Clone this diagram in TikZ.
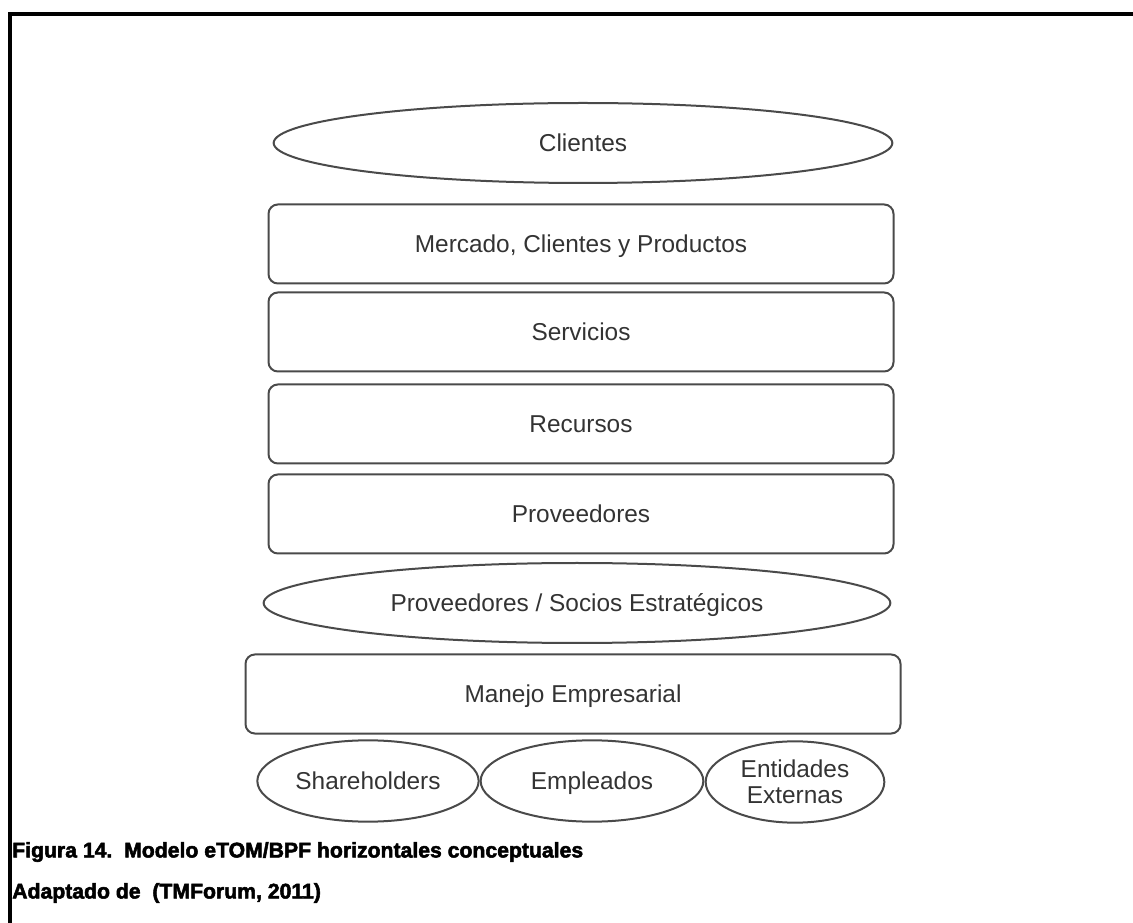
\documentclass[tikz,border=0pt]{standalone}
\usepackage{fontspec}
\setmainfont{Liberation Sans}
\newfontfamily\capfont[FakeBold=2.4]{Liberation Sans Bold}
\usetikzlibrary{shapes.geometric}
\definecolor{edge}{HTML}{4A4A4A}
\definecolor{ink}{HTML}{333333}
\tikzset{
  layer/.style={draw=edge, line width=1.5pt, rounded corners=7pt, text=ink,
    minimum width=468.75pt, minimum height=59.25pt, inner sep=0pt,
    text height=13pt, text depth=0pt, font=\fontsize{18.3}{21}\selectfont},
  party/.style={draw=edge, line width=1.5pt, ellipse, text=ink, inner sep=0pt,
    text height=13pt, text depth=0pt, font=\fontsize{18.3}{21}\selectfont, align=center},
  caption/.style={anchor=west, inner sep=0pt, text=black, font=\capfont\fontsize{15.9}{19}\selectfont}
}
\begin{document}
\begin{tikzpicture}[x=0.75pt, y=-0.75pt]
  \useasboundingbox (0,0) rectangle (1133,923);
  % frame
  \coordinate (fc) at (10,14);
  \draw[line width=2.4pt] (1133,14) -- (fc) -- (10,923);

  % top party
  \node[party, minimum width=464pt, minimum height=60pt] (cli) at (583,143) {Clientes};

  % stacked horizontal layers
  \node[layer] (mer) at (581,244) {Mercado, Clientes y Productos};
  \node[layer] (ser) at (581,332) {Servicios};
  \node[layer] (rec) at (581,424) {Recursos};
  \node[layer] (pro) at (581,514) {Proveedores};

  \node[party, minimum width=470pt, minimum height=60pt] (soc) at (577,603) {Proveedores / Socios Estratégicos};

  \node[layer, minimum width=491.25pt] (man) at (573,694) {Manejo Empresarial};

  % bottom parties
  \node[party, minimum width=166pt, minimum height=61pt] (sha) at (368,781) {Shareholders};
  \node[party, minimum width=167pt, minimum height=61pt] (emp) at (592,781) {Empleados};
  \node[party, minimum width=134pt, minimum height=61pt, text height=, text depth=,
    font=\fontsize{18.3}{19.5}\selectfont] (ent) at (795,782) {Entidades\\Externas};

  % caption
  \node[caption] (cap1) at (12,852) {Figura 14.\ \ Modelo eTOM/BPF horizontales conceptuales};
  \node[caption] (cap2) at (12,893) {Adaptado de\ \ (TMForum, 2011)};
\end{tikzpicture}
\end{document}
